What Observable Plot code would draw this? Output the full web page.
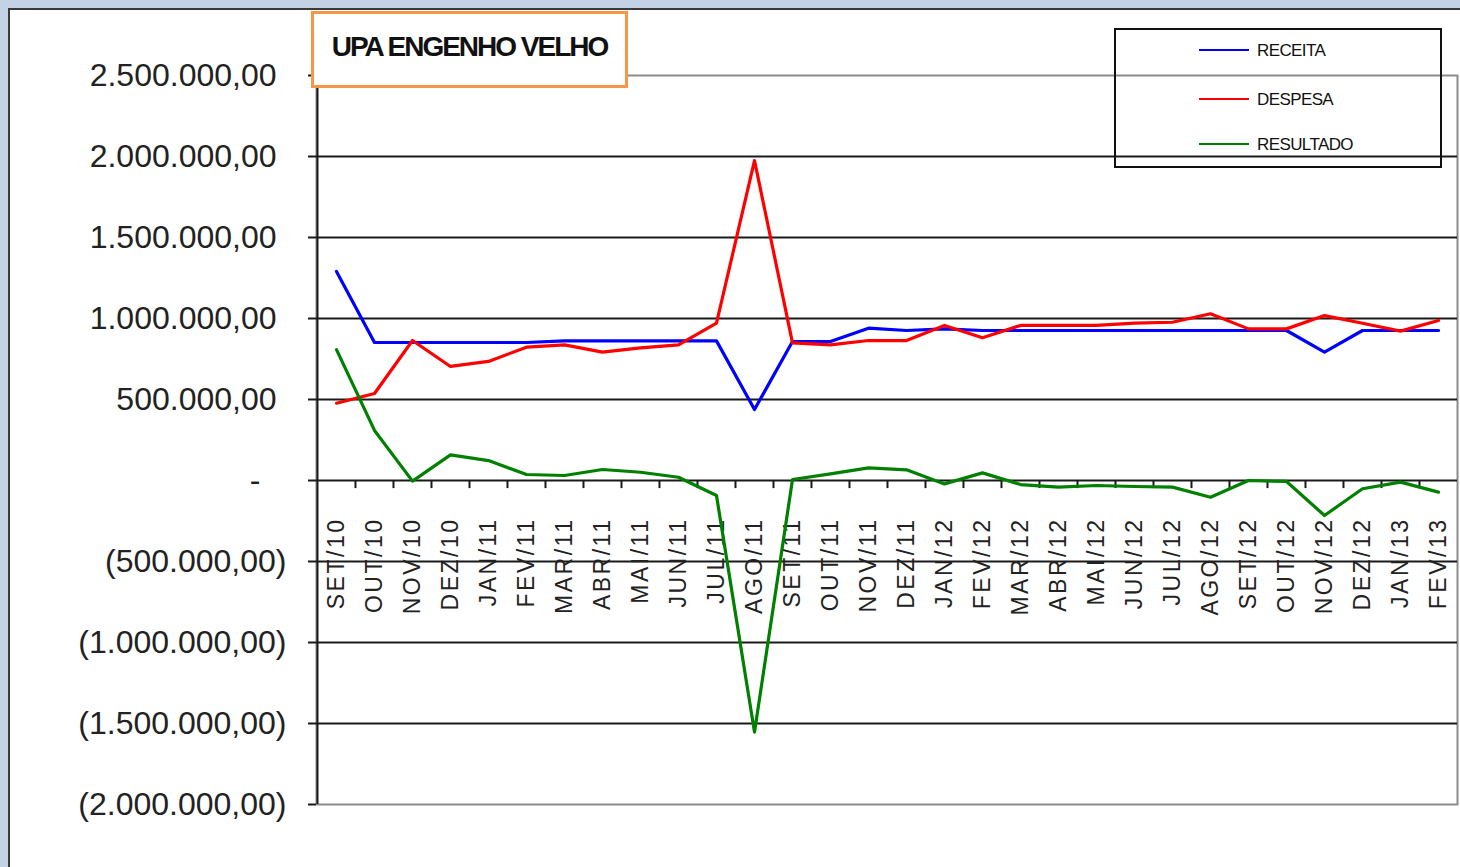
<!DOCTYPE html>
<html><head><meta charset="utf-8">
<script src="https://cdn.jsdelivr.net/npm/d3@7"></script>
<script src="https://cdn.jsdelivr.net/npm/@observablehq/plot@0.6"></script>
<style>
html,body{margin:0;padding:0;}
body{width:1460px;height:867px;background:#c3d3e5;position:relative;overflow:hidden;font-family:"Liberation Sans",Arial,sans-serif;}
#frame{position:absolute;left:8px;top:8px;width:1452px;height:859px;background:#fff;border-top:2px solid #3a3a3a;border-left:2px solid #3a3a3a;}
#chart{position:absolute;left:0;top:0;}
#title{position:absolute;left:301px;top:1px;width:311px;height:71px;border:3px solid #f79646;background:#fff;display:flex;align-items:center;justify-content:center;box-sizing:content-box;}
#title span{font-weight:bold;font-size:28px;letter-spacing:-2px;color:#111;position:relative;top:-3px;white-space:nowrap;}
#legend{position:absolute;left:1104px;top:18px;width:324px;height:136px;border:2px solid #111;background:transparent;}
.item{position:absolute;left:83px;height:0;}
.item .sw{position:absolute;left:0;width:50px;height:2px;top:-1px;}
.item .lb{position:absolute;left:58px;top:-9px;font-size:17px;letter-spacing:-0.6px;color:#111;white-space:nowrap;line-height:20px;}
#chart g[aria-label="y-axis tick label"] text{letter-spacing:0px;}
#chart g[aria-label="text"] text{letter-spacing:2.5px;}
</style>
</head><body>
<div id="frame">
  <div id="chart"></div>
  <div id="title"><span>UPA ENGENHO VELHO</span></div>
  <div id="legend"></div>
</div>
<script>
const categories = ["SET/10","OUT/10","NOV/10","DEZ/10","JAN/11","FEV/11","MAR/11","ABR/11","MAI/11","JUN/11","JUL/11","AGO/11","SET/11","OUT/11","NOV/11","DEZ/11","JAN/12","FEV/12","MAR/12","ABR/12","MAI/12","JUN/12","JUL/12","AGO/12","SET/12","OUT/12","NOV/12","DEZ/12","JAN/13","FEV/13"];
const receita = [1290000, 852000, 852000, 852000, 852000, 852000, 862000, 862000, 862000, 862000, 862000, 438000, 858000, 858000, 940000, 926000, 936000, 926000, 926000, 926000, 926000, 926000, 926000, 926000, 926000, 926000, 792000, 926000, 926000, 926000];
const despesa = [477000, 537000, 864000, 704000, 735000, 823000, 837000, 792000, 819000, 837000, 971000, 1975000, 850000, 837000, 864000, 864000, 957000, 881000, 957000, 957000, 957000, 971000, 977000, 1029000, 936000, 936000, 1018000, 971000, 922000, 988000];
const resultado = [808000, 309000, -4000, 158000, 123000, 37000, 31000, 68000, 51000, 20000, -93000, -1553000, 6000, 41000, 78000, 66000, -21000, 47000, -25000, -41000, -31000, -37000, -41000, -103000, 0, -6000, -216000, -51000, -10000, -72000];
const seriesNames = ["RECEITA","DESPESA","RESULTADO"];
const seriesColors = ["#0000ff","#ff0000","#008000"];
const posTicks = [2500000, 2000000, 1500000, 1000000, 500000];
const negTicks = [-500000, -1000000, -1500000, -2000000];
const gridValues = [2000000, 1500000, 1000000, 500000, 0, -500000, -1000000, -1500000];

const loc = d3.formatLocale({decimal: ",", thousands: ".", grouping: [3], currency: ["", ""]});
const f2 = loc.format(",.2f");
const fmt = v => v < 0 ? "(" + f2(-v) + ")" : f2(v);

const seriesValues = [receita, despesa, resultado];
const data = [];
categories.forEach((c, i) => {
  seriesNames.forEach((s, k) => data.push({cat: c, serie: s, v: seriesValues[k][i]}));
});

const W = 1450, H = 857;
const mL = 306, mR = 3, mT = 65, mB = 63;
const halfStep = (W - mL - mR) / categories.length / 2;
const axisOpts = {anchor: "left", label: null, tickSize: 8, fontSize: 32, fill: "#222", strokeWidth: 2, stroke: "#1a1a1a"};

const chart = Plot.plot({
  width: W, height: H,
  marginLeft: mL, marginRight: mR, marginTop: mT, marginBottom: mB,
  style: {background: "transparent", fontFamily: "Liberation Sans, Arial, sans-serif", color: "#222", overflow: "visible"},
  x: {type: "point", domain: categories, padding: 0.5, axis: null},
  y: {domain: [-2000000, 2500000], axis: null},
  color: {domain: seriesNames, range: seriesColors},
  marks: [
    Plot.frame({stroke: "#8c8c8c", strokeWidth: 2}),
    Plot.ruleY(gridValues, {stroke: "#1a1a1a", strokeWidth: 2}),
    Plot.ruleX([categories[0]], {dx: -halfStep, y1: -2000000, y2: 2500000, stroke: "#1a1a1a", strokeWidth: 2}),
    Plot.ruleX(categories.slice(1), {x: d => d, y1: 0, y2: -50000, dx: -halfStep, stroke: "#1a1a1a", strokeWidth: 2}),
    Plot.axisY(posTicks, {...axisOpts, tickPadding: 32, tickFormat: fmt}),
    Plot.axisY(negTicks, {...axisOpts, tickPadding: 22, tickFormat: fmt}),
    Plot.axisY([0], {...axisOpts, tickPadding: 48, tickFormat: () => "-"}),
    Plot.text(categories, {x: d => d, y: 0, text: d => d, rotate: -90, textAnchor: "end", dy: 37, fontSize: 23, fill: "#222"}),
    Plot.line(data, {x: "cat", y: "v", z: "serie", stroke: "serie", strokeWidth: 3.2})
  ]
});
document.getElementById("chart").appendChild(chart);

const legend = document.getElementById("legend");
const legendTops = [20, 69, 114];
seriesNames.forEach((s, k) => {
  const it = document.createElement("div");
  it.className = "item";
  it.style.top = legendTops[k] + "px";
  it.innerHTML = `<div class="sw" style="background:${seriesColors[k]}"></div><div class="lb">${s}</div>`;
  legend.appendChild(it);
});
</script>
</body></html>
